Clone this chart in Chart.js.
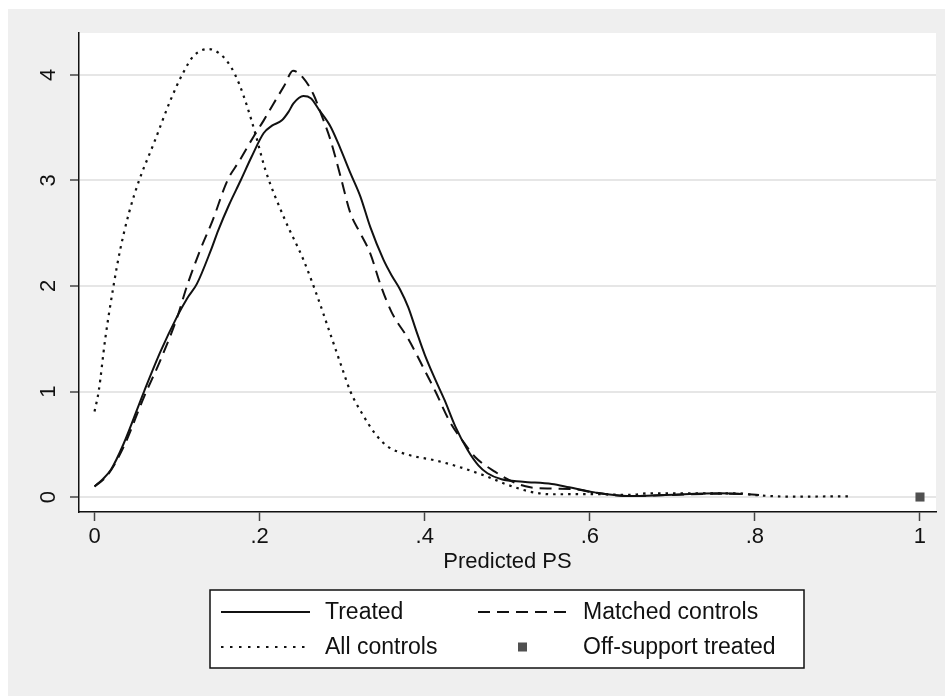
<!DOCTYPE html>
<html>
<head>
<meta charset="utf-8">
<script src="https://cdn.jsdelivr.net/npm/chart.js@4.4.1/dist/chart.umd.min.js"></script>
<style>
  html, body { margin: 0; padding: 0; background: #ffffff; }
  #frame { position: absolute; left: 8px; top: 9px; width: 937px; height: 687px; background: #efefef; }
  canvas { display: block; }
</style>
</head>
<body>
<div id="frame"><canvas id="ps" width="937" height="687"></canvas></div>
<script>
// ---------------------------------------------------------
// Data (kernel densities of predicted propensity score)
// ---------------------------------------------------------
const psTreated = [0, 0.01, 0.02, 0.035, 0.06, 0.08, 0.10, 0.112, 0.124, 0.141, 0.15, 0.163, 0.177, 0.19, 0.205, 0.215, 0.227, 0.235, 0.241, 0.253, 0.262, 0.272, 0.286, 0.298, 0.31, 0.322, 0.334, 0.35, 0.36, 0.37, 0.38, 0.39, 0.40, 0.413, 0.424, 0.437, 0.452, 0.465, 0.476, 0.493, 0.519, 0.554, 0.575, 0.606, 0.649, 0.692, 0.757, 0.785];
const densTreated = [0.1, 0.17, 0.26, 0.5, 1.0, 1.38, 1.71, 1.88, 2.02, 2.34, 2.53, 2.77, 3.0, 3.22, 3.45, 3.52, 3.57, 3.65, 3.73, 3.8, 3.78, 3.67, 3.51, 3.3, 3.07, 2.85, 2.56, 2.25, 2.1, 1.97, 1.8, 1.57, 1.35, 1.11, 0.92, 0.67, 0.445, 0.3, 0.225, 0.168, 0.145, 0.123, 0.092, 0.044, 0.009, 0.019, 0.035, 0.028];

const psMatched = [0, 0.015, 0.035, 0.06, 0.08, 0.10, 0.112, 0.128, 0.143, 0.161, 0.175, 0.193, 0.205, 0.217, 0.23, 0.2405, 0.253, 0.265, 0.275, 0.286, 0.298, 0.31, 0.322, 0.334, 0.347, 0.36, 0.38, 0.40, 0.413, 0.43, 0.448, 0.461, 0.485, 0.511, 0.528, 0.554, 0.58, 0.606, 0.65, 0.70, 0.75, 0.78, 0.805];
const densMatched = [0.1, 0.2, 0.47, 0.95, 1.3, 1.7, 2.0, 2.34, 2.62, 3.0, 3.18, 3.42, 3.57, 3.73, 3.9, 4.04, 3.97, 3.82, 3.62, 3.38, 3.04, 2.69, 2.5, 2.31, 2.0, 1.75, 1.5, 1.2, 1.0, 0.72, 0.51, 0.38, 0.24, 0.13, 0.092, 0.08, 0.075, 0.041, 0.01, 0.02, 0.03, 0.03, 0.02];

const psAll = [0, 0.005, 0.013, 0.023, 0.031, 0.042, 0.054, 0.072, 0.092, 0.106, 0.12, 0.138, 0.152, 0.165, 0.175, 0.185, 0.195, 0.207, 0.23, 0.253, 0.27, 0.285, 0.30, 0.31, 0.325, 0.34, 0.355, 0.38, 0.411, 0.441, 0.476, 0.498, 0.528, 0.554, 0.606, 0.649, 0.67, 0.778, 0.80, 0.843, 0.88, 0.917];
const densAll = [0.81, 1.0, 1.5, 2.0, 2.34, 2.7, 3.0, 3.355, 3.76, 4.0, 4.18, 4.246, 4.2, 4.08, 3.92, 3.7, 3.44, 3.1, 2.64, 2.25, 1.9, 1.56, 1.22, 1.0, 0.78, 0.6, 0.48, 0.4, 0.35, 0.287, 0.193, 0.123, 0.05, 0.026, 0.028, 0.02, 0.035, 0.035, 0.019, 0.003, 0.005, 0.006];

const psOffSupport = [1];
const densOffSupport = [0];

const xTickValues = [0, 0.2, 0.4, 0.6, 0.8, 1];
const xTickLabels = ['0', '.2', '.4', '.6', '.8', '1'];
const yTickValues = [0, 1, 2, 3, 4];
const yTickLabels = ['0', '1', '2', '3', '4'];

const seriesLabels = ['Treated', 'Matched controls', 'All controls', 'Off-support treated'];

// ---------------------------------------------------------
// Style
// ---------------------------------------------------------
const FONT = '"Liberation Sans", Arial, Helvetica, sans-serif';
const INK = '#111111';
const GRID = '#e6e6e6';
const TICK = '#444444';
const SQUARE = '#505050';
const DOTS = [2.5, 5];

const toPoints = (xs, ys) => xs.map((x, i) => ({ x, y: ys[i] }));

function lineSet(label, xs, ys, dash, width) {
  return {
    type: 'line',
    label,
    data: toPoints(xs, ys),
    borderColor: INK,
    borderWidth: width || 2,
    borderDash: dash,
    pointRadius: 0,
    fill: false,
    cubicInterpolationMode: 'monotone',
  };
}

// chart area background + rotated y labels + the boxed legend
const statPlugin = {
  id: 'statPlugin',
  beforeDraw(chart) {
    const { ctx, chartArea: a } = chart;
    ctx.save();
    ctx.fillStyle = '#ffffff';
    ctx.fillRect(a.left, a.top, a.right - a.left, a.bottom - a.top);
    ctx.restore();
  },
  afterDraw(chart) {
    const ctx = chart.ctx;
    const yScale = chart.scales.y;

    ctx.save();
    ctx.fillStyle = INK;
    ctx.font = '22px ' + FONT;
    ctx.textAlign = 'center';
    ctx.textBaseline = 'middle';
    yTickValues.forEach((v, i) => {
      ctx.save();
      ctx.translate(40, yScale.getPixelForValue(v));
      ctx.rotate(-Math.PI / 2);
      ctx.fillText(yTickLabels[i], 0, 1);
      ctx.restore();
    });
    ctx.restore();

    // legend box
    const box = { x: 202, y: 581, w: 594, h: 78 };
    ctx.save();
    ctx.fillStyle = '#ffffff';
    ctx.fillRect(box.x, box.y, box.w, box.h);
    ctx.strokeStyle = INK;
    ctx.lineWidth = 1.5;
    ctx.strokeRect(box.x, box.y, box.w, box.h);

    const rows = [603, 638];
    const cols = [{ s: 213, e: 302, t: 317 }, { s: 470, e: 560, t: 575 }];
    const items = [
      { ds: 0, col: 0, row: 0 },
      { ds: 1, col: 1, row: 0 },
      { ds: 2, col: 0, row: 1 },
      { ds: 3, col: 1, row: 1 },
    ];
    items.forEach(it => {
      const ds = chart.data.datasets[it.ds];
      const c = cols[it.col];
      const y = rows[it.row];
      if (ds.type === 'line') {
        ctx.strokeStyle = INK;
        ctx.lineWidth = 2;
        ctx.setLineDash(it.ds === 2 ? [2.5, 6.5] : (ds.borderDash || []));
        ctx.beginPath();
        ctx.moveTo(c.s, y);
        ctx.lineTo(c.e, y);
        ctx.stroke();
        ctx.setLineDash([]);
      } else {
        ctx.fillStyle = SQUARE;
        ctx.fillRect(510, y - 4.5, 9, 9);
      }
      ctx.fillStyle = INK;
      ctx.font = '23px ' + FONT;
      ctx.textAlign = 'left';
      ctx.textBaseline = 'middle';
      ctx.fillText(ds.label, c.t, y + 1);
    });
    ctx.restore();
  },
};

const ctx = document.getElementById('ps').getContext('2d');

new Chart(ctx, {
  data: {
    datasets: [
      lineSet(seriesLabels[0], psTreated, densTreated, []),
      lineSet(seriesLabels[1], psMatched, densMatched, [12, 7]),
      lineSet(seriesLabels[2], psAll, densAll, DOTS, 2.2),
      {
        type: 'scatter',
        label: seriesLabels[3],
        data: toPoints(psOffSupport, densOffSupport),
        pointStyle: 'rect',
        pointRadius: 6.4,
        pointBackgroundColor: SQUARE,
        pointBorderWidth: 0,
        pointBorderColor: SQUARE,
      },
    ],
  },
  options: {
    responsive: false,
    animation: false,
    devicePixelRatio: 1,
    layout: { padding: { top: 24, right: 9, left: 0, bottom: 0 } },
    plugins: {
      legend: { display: false },
      tooltip: { enabled: false },
    },
    scales: {
      x: {
        type: 'linear',
        min: -0.0188,
        max: 1.0194,
        afterBuildTicks: (s) => { s.ticks = xTickValues.map(v => ({ value: v })); },
        afterFit: (s) => { s.height = 184; s.paddingLeft = 0; s.paddingRight = 0; },
        grid: { drawOnChartArea: false, drawTicks: true, tickLength: 9, tickColor: TICK, tickWidth: 1.5 },
        border: { display: true, color: INK, width: 1.5 },
        ticks: {
          autoSkip: false,
          maxRotation: 0,
          padding: 3,
          color: INK,
          font: { family: FONT, size: 22 },
          callback: (v) => { const i = xTickValues.indexOf(v); return i >= 0 ? xTickLabels[i] : ''; },
        },
        title: {
          display: true,
          text: 'Predicted PS',
          color: INK,
          font: { family: FONT, size: 22 },
          padding: { top: 0, bottom: 121 },
        },
      },
      y: {
        type: 'linear',
        min: -0.142,
        max: 4.398,
        afterBuildTicks: (s) => { s.ticks = yTickValues.map(v => ({ value: v })); },
        afterFit: (s) => { s.width = 71; },
        grid: { color: GRID, lineWidth: 2, drawTicks: true, tickLength: 9, tickColor: TICK, tickWidth: 1.5 },
        border: { display: true, color: INK, width: 1.5 },
        ticks: { display: false },
      },
    },
  },
  plugins: [statPlugin],
});
</script>
</body>
</html>
